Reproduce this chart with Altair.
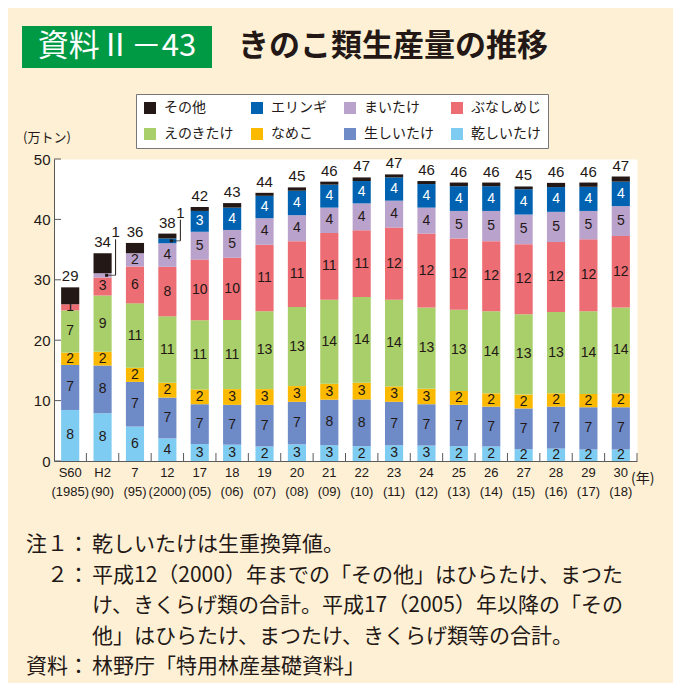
import altair as alt
import pandas as pd

# ---------------- data ----------------
years = ["S60|(1985)", "H2|(90)", "7|(95)", "12|(2000)", "17|(05)", "18|(06)",
         "19|(07)", "20|(08)", "21|(09)", "22|(10)", "23|(11)", "24|(12)",
         "25|(13)", "26|(14)", "27|(15)", "28|(16)", "29|(17)", "30|(18)"]

# legend order (top of stack first)
series = ["その他", "エリンギ", "まいたけ", "ぶなしめじ", "えのきたけ", "なめこ", "生しいたけ", "乾しいたけ"]
colors = ["#231815", "#0062B1", "#B9A2CC", "#ED6D74", "#A9CF6A", "#FBBA00", "#6E8BC8", "#7FCCF2"]

# production, 10,000 t
hoshi   = [8.45, 7.9, 5.7, 3.75, 2.8, 2.7, 2.4, 2.75, 2.6, 2.45, 2.6, 2.55, 2.45, 2.4, 1.95, 2.05, 1.9, 1.9]
nama    = [7.45, 7.9, 7.4, 6.75, 6.6, 6.6, 6.9, 7.05, 7.55, 7.75, 7.2, 6.85, 6.85, 6.6, 6.75, 6.95, 7.0, 7.0]
nameko  = [2.05, 2.3, 2.35, 2.45, 2.45, 2.6, 2.6, 2.6, 2.65, 2.75, 2.55, 2.55, 2.3, 2.2, 2.3, 2.2, 2.2, 2.3]
enoki   = [7.0, 9.3, 10.65, 11.0, 11.45, 11.45, 12.9, 13.1, 13.9, 14.2, 14.35, 13.45, 13.45, 13.6, 13.3, 13.45, 13.7, 14.2]
buna    = [1.0, 3.0, 6.1, 8.2, 10.05, 10.3, 11.0, 10.9, 11.05, 11.05, 11.95, 12.25, 11.8, 11.6, 11.6, 11.6, 11.9, 11.85]
maitake = [0, 0.7, 2.2, 3.9, 4.6, 4.6, 4.4, 4.3, 4.2, 4.45, 4.45, 4.3, 4.55, 5.0, 4.9, 5.0, 4.7, 4.95]
eringi  = [0, 0, 0, 0.8, 3.45, 3.7, 3.7, 4.05, 3.8, 3.7, 3.85, 3.9, 4.1, 4.1, 4.2, 4.1, 4.0, 4.05]
sonota  = [2.8, 3.3, 1.7, 0.8, 0.65, 0.75, 0.5, 0.55, 0.5, 0.6, 0.5, 0.5, 0.6, 0.6, 0.45, 0.7, 0.7, 0.85]

yticks = [0, 10, 20, 30, 40, 50]

note_lines = ["乾しいたけは生重換算値。",
              "平成12（2000）年までの「その他」はひらたけ、まつた",
              "け、きくらげ類の合計。平成17（2005）年以降の「その",
              "他」はひらたけ、まつたけ、きくらげ類等の合計。",
              "林野庁「特用林産基礎資料」"]

values = {"その他": sonota, "エリンギ": eringi, "まいたけ": maitake, "ぶなしめじ": buna,
          "えのきたけ": enoki, "なめこ": nameko, "生しいたけ": nama, "乾しいたけ": hoshi}

def rnd(v):
    return int(round(v, 2) + 0.5)

rows, totals, callouts = [], [], []
for i, yr in enumerate(years):
    lo = 0.0
    small = []
    for k, s in enumerate(reversed(series)):
        v = values[s][i]
        rows.append(dict(year=yr, series=s, lo=lo, hi=lo + v, mid=lo + v / 2, value=v,
                         order=k, label=str(rnd(v))))
        if 0 < v < 0.95 and s != "その他":
            small.append(dict(year=yr, mid=lo + v / 2, label=str(rnd(v))))
        lo += v
    totals.append(dict(year=yr, total=lo, label=str(rnd(lo))))
    for c in small:
        c["top"] = lo + 2.3
        callouts.append(c)

df = pd.DataFrame(rows)
df_bars = df[df.value > 0]
df_lab = df[(df.value >= 0.95) & (df.series != "その他")]
df_tot = pd.DataFrame(totals)
df_call = pd.DataFrame(callouts)
df_years = pd.DataFrame({"year": years})
df_yt = pd.DataFrame({"t": yticks})

INK = "#231815"
AX = "#5a5a5a"
JP = "Noto Sans CJK JP"
NUM = "Liberation Sans"
W, H = 583, 302

xs = alt.Scale(paddingInner=0.44, paddingOuter=0.22)
ys = alt.Scale(domain=[0, 50])

AXX = alt.Axis(labelExpr="split(datum.value, '|')", labelAngle=0, ticks=False,
               domainColor=AX, labelFont=NUM, labelFontSize=13, labelLineHeight=19,
               labelPadding=5, labelColor=INK, title=None)
AXY = alt.Axis(values=yticks, ticks=False, grid=False, labelPadding=4, labelFontSize=15,
               labelFont=NUM, labelColor=INK, domainColor=AX, title=None)

def X():
    return alt.X("year:N", sort=years, scale=xs, axis=AXX)

def Y(f):
    return alt.Y(f, scale=ys, axis=AXY)

bars = alt.Chart(df_bars).mark_bar().encode(
    x=X(),
    y=Y("lo:Q"),
    y2="hi:Q",
    color=alt.Color("series:N", scale=alt.Scale(domain=series, range=colors),
                    legend=alt.Legend(orient="none", legendX=82, legendY=-65, direction="horizontal",
                                      columns=4, title=None, symbolType="square", symbolSize=144,
                                      symbolStrokeWidth=0, labelFont=JP, labelFontSize=14,
                                      labelColor=INK, labelOffset=7, columnPadding=16, rowPadding=12,
                                      padding=7, strokeColor="#777777", fillColor="white")),
    order=alt.Order("order:Q"),
)

seg_labels = alt.Chart(df_lab).mark_text(font=NUM, fontSize=14).encode(
    x=X(), y=Y("mid:Q"), text="label:N",
    color=alt.condition(alt.datum.series == "エリンギ", alt.value("white"), alt.value(INK)),
)

tot_labels = alt.Chart(df_tot).mark_text(font=NUM, fontSize=15, baseline="bottom", dy=-3, color=INK).encode(
    x=X(), y=Y("total:Q"), text="label:N",
)

c_h = alt.Chart(df_call).mark_tick(orient="horizontal", size=9, thickness=1, xOffset=8.5, color=INK).encode(
    x=X(), y=Y("mid:Q"))
c_v = alt.Chart(df_call).mark_rule(xOffset=13, color=INK, strokeWidth=1).encode(
    x=X(), y=Y("mid:Q"), y2="top:Q")
c_dot = alt.Chart(df_call).mark_point(shape="square", filled=True, size=9, xOffset=4, color=INK, opacity=1).encode(
    x=X(), y=Y("mid:Q"))
c_txt = alt.Chart(df_call).mark_text(font=NUM, fontSize=15, baseline="bottom", dy=1, xOffset=13, color=INK).encode(
    x=X(), y=Y("top:Q"), text="label:N")

ytick_marks = alt.Chart(df_yt).mark_rule(color=AX).encode(
    y=Y("t:Q"), x=alt.value(0), x2=alt.value(7))
xtick_marks = alt.Chart(df_years).mark_rule(color=AX, xOffset=W / 36).encode(
    x=X(), y=alt.value(H), y2=alt.value(H - 8))

def txt(s, x, y, size, color=INK, align="left", weight="normal", font=JP, lh=None):
    kw = dict(font=font, fontSize=size, color=color, align=align, baseline="middle", fontWeight=weight)
    if lh:
        kw["lineHeight"] = lh
    return alt.Chart(pd.DataFrame({"t": [s]})).mark_text(**kw).encode(
        text="t", x=alt.value(x), y=alt.value(y))

title_box = alt.Chart(pd.DataFrame({"t": [1]})).mark_rect(color="#009944").encode(
    x=alt.value(-32), x2=alt.value(158), y=alt.value(-133), y2=alt.value(-91))

NOTE_FS = 21
NOTE_LH = 30.5
annots = [
    title_box,
    txt("資料Ⅱ－43", 63, -112, 31, color="white", align="center"),
    txt("きのこ類生産量の推移", 184, -112, 31, weight="bold"),
    txt("(万トン)", -31, -21, 13),
    txt("(年)", 577, 320, 14),
    txt("注１：", 35, 386, NOTE_FS, align="right"),
    txt("２：", 35, 386 + NOTE_LH, NOTE_FS, align="right"),
    txt("資料：", 35, 386 + 4 * NOTE_LH, NOTE_FS, align="right"),
    txt(note_lines, 38, 386, NOTE_FS, lh=NOTE_LH),
]

chart = alt.layer(
    bars, seg_labels, tot_labels, c_h, c_v, c_dot, c_txt, ytick_marks, xtick_marks, *annots
).properties(
    width=W, height=H,
    padding={"left": 46, "top": 151, "right": 36, "bottom": 222},
    autosize=alt.AutoSizeParams(type="none"),
    background="#FDF0D5",
).configure_view(fill="white", stroke="transparent")

chart.save("out.html", embed_options={"renderer": "svg", "actions": False})
